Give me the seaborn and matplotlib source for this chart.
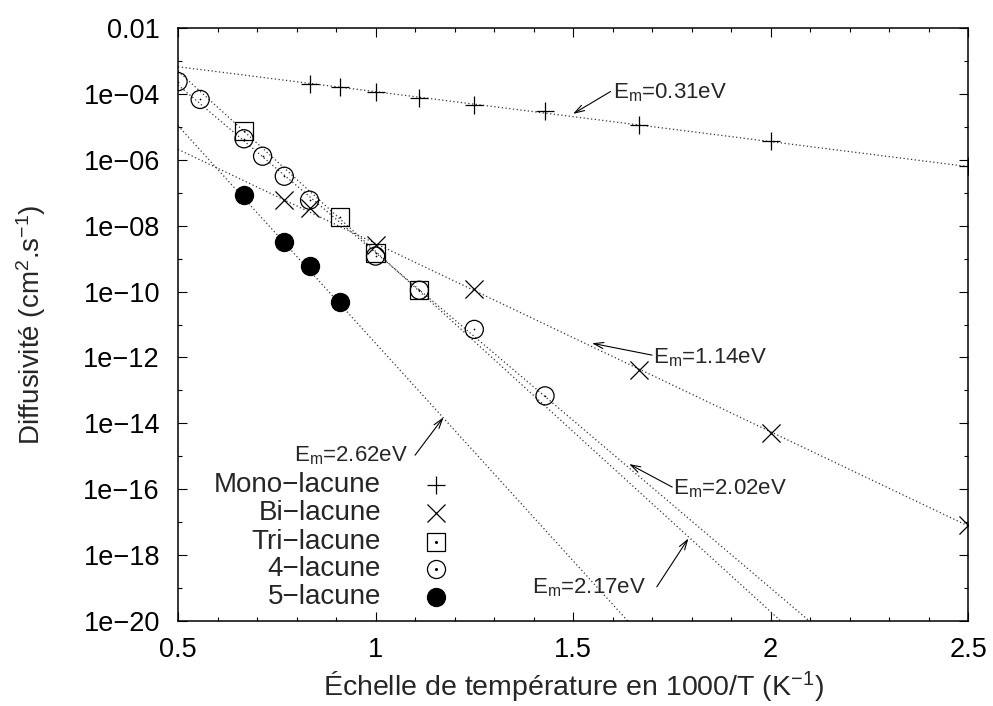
import matplotlib
matplotlib.use("Agg")
import matplotlib.pyplot as plt
import seaborn as sns
import pandas as pd
from matplotlib.ticker import FixedLocator, FixedFormatter

# points (x = 1000/T, D en cm2/s)
x_mono = [0.833, 0.909, 1.0, 1.111, 1.25, 1.429, 1.667, 2.0, 2.5]
d_mono = [2.1e-4, 1.6e-4, 1.2e-4, 7.8e-5, 4.7e-5, 3.1e-5, 1.15e-5, 3.8e-6, 6.6e-7]

x_bi = [0.769, 0.833, 1.0, 1.25, 1.667, 2.0, 2.5]
d_bi = [6.0e-8, 3.4e-8, 2.6e-9, 1.2e-10, 4.1e-13, 4.9e-15, 7.9e-18]

x_tri = [0.667, 0.909, 1.0, 1.111]
d_tri = [7.6e-6, 1.8e-8, 1.45e-9, 1.1e-10]

x_quatre = [0.5, 0.556, 0.667, 0.714, 0.769, 0.833, 1.0, 1.111, 1.25, 1.429]
d_quatre = [2.4e-4, 6.9e-5, 4.4e-6, 1.3e-6, 3.2e-7, 6.0e-8, 1.2e-9, 1.1e-10, 7.1e-12, 6.8e-14]

x_cinq = [0.667, 0.769, 0.833, 0.909]
d_cinq = [8.5e-8, 3.2e-9, 6.0e-10, 4.9e-11]

# droites d'Arrhenius (extrémités x = 0.5 et x = 2.5)
x_fit = [0.5, 2.5]
fit_mono = [6.8e-4, 6.3e-7]
fit_bi = [2.1e-6, 7.6e-18]
fit_tri = [5.0e-4, 6.3e-26]
fit_quatre = [1.9e-4, 7.9e-25]
fit_cinq = [1.1e-5, 4.0e-32]

energies = ["0.31", "1.14", "2.02", "2.17", "2.62"]
noms = ["Mono\u2212lacune", "Bi\u2212lacune", "Tri\u2212lacune", "4\u2212lacune", "5\u2212lacune"]

y_ticks = [1e-20, 1e-18, 1e-16, 1e-14, 1e-12, 1e-10, 1e-8, 1e-6, 1e-4, 1e-2]
y_tick_labels = ["1e\u221220", "1e\u221218", "1e\u221216", "1e\u221214", "1e\u221212",
                 "1e\u221210", "1e\u221208", "1e\u221206", "1e\u221204", "0.01"]
y_minor = [1e-19, 1e-17, 1e-15, 1e-13, 1e-11, 1e-9, 1e-7, 1e-5, 1e-3]
x_ticks = [0.5, 1.0, 1.5, 2.0, 2.5]
x_tick_labels = ["0.5", "1", "1.5", "2", "2.5"]

sns.set_style("ticks")
plt.rcParams["font.family"] = ["Liberation Sans", "DejaVu Sans"]
plt.rcParams["mathtext.default"] = "regular"
plt.rcParams["axes.linewidth"] = 1.1

fig = plt.figure(figsize=(9.93, 7.06), dpi=100)
ax = fig.add_axes([0.1793, 0.1208, 0.7956, 0.8391])

ligne = dict(color="#333333", lw=0.9, linestyle=(0, (1, 2)))
for fit in [fit_mono, fit_bi, fit_tri, fit_quatre, fit_cinq]:
    ax.plot(x_fit, fit, **ligne)

series = [
    (x_mono, d_mono, "+", "black", False),
    (x_bi, d_bi, "x", "black", False),
    (x_tri, d_tri, "s", "none", True),
    (x_quatre, d_quatre, "o", "none", True),
    (x_cinq, d_cinq, "o", "black", False),
]
for xs, ds, m, fc, dot in series:
    df = pd.DataFrame({"x": xs, "d": ds})
    sns.scatterplot(data=df, x="x", y="d", marker=m, s=170, color="black",
                    linewidth=0.9, ax=ax, zorder=3)
    coll = ax.collections[-1]
    if m in ("s", "o"):
        coll.set_facecolor(fc)
        coll.set_edgecolor("black")
    if dot:
        sns.scatterplot(data=df, x="x", y="d", marker="o", s=1.5, color="black",
                        linewidth=0, ax=ax, zorder=3)

ax.set_yscale("log")
ax.set_xlim(0.5, 2.5)
ax.set_ylim(1e-20, 1e-2)
ax.yaxis.set_major_locator(FixedLocator(y_ticks))
ax.yaxis.set_major_formatter(FixedFormatter(y_tick_labels))
ax.yaxis.set_minor_locator(FixedLocator(y_minor))
ax.yaxis.set_minor_formatter(FixedFormatter([""] * len(y_minor)))
ax.xaxis.set_major_locator(FixedLocator(x_ticks))
ax.xaxis.set_major_formatter(FixedFormatter(x_tick_labels))
ax.xaxis.set_minor_locator(FixedLocator([0.6, 0.7, 0.8, 0.9, 1.1, 1.2, 1.3, 1.4, 1.6, 1.7,
                                         1.8, 1.9, 2.1, 2.2, 2.3, 2.4]))
ax.tick_params(which="both", direction="in", top=True, right=True, width=0.8, colors="black")
ax.tick_params(which="major", length=6.5, labelsize=19.5)
ax.tick_params(which="minor", length=3)
ax.tick_params(axis="y", which="major", pad=13)
ax.tick_params(axis="x", which="major", pad=12)
for s in ax.spines.values():
    s.set_color("black")

ax.set_xlabel("\u00c9chelle de temp\u00e9rature en 1000/T (K$^{-1}$)", fontsize=20.5)
ax.set_ylabel("Diffusivit\u00e9 (cm$^2$.s$^{-1}$)", fontsize=20)
ax.xaxis.set_label_coords(0.5, -0.082)
ax.yaxis.set_label_coords(-0.165, 0.5)

# étiquettes des énergies de migration
fleche = dict(arrowstyle="->,head_length=0.7,head_width=0.22", color="black", lw=0.8,
              shrinkA=0, shrinkB=0)
annots = [
    (energies[0], (1.601, 10 ** -4.13), "left", (1.595, 10 ** -3.92), (1.5, 10 ** -4.6)),
    (energies[1], (1.703, 10 ** -12.18), "left", (1.7, 10 ** -11.93), (1.548, 10 ** -11.57)),
    (energies[2], (1.753, 10 ** -16.15), "left", (1.751, 10 ** -15.94), (1.642, 10 ** -15.24)),
    (energies[3], (1.686, 10 ** -19.17), "right", (1.712, 10 ** -18.97), (1.792, 10 ** -17.5)),
    (energies[4], (1.083, 10 ** -15.17), "right", (1.1, 10 ** -14.97), (1.172, 10 ** -13.82)),
]
for e, pos, ha, start, tip in annots:
    ax.text(pos[0], pos[1], f"$E_m$={e}eV", ha=ha, va="baseline", fontsize=16)
    ax.annotate("", xy=tip, xytext=start, arrowprops=fleche)

# légende à la gnuplot
leg_y = [0.229, 0.182, 0.133, 0.087, 0.040]
for i, nom in enumerate(noms):
    ax.text(0.257, leg_y[i], nom, transform=ax.transAxes, ha="right", va="center", fontsize=20)
    m, fc = series[i][2], series[i][3]
    ax.plot([0.327], [leg_y[i]], transform=ax.transAxes, marker=m, markersize=13,
            markerfacecolor=fc, markeredgecolor="black", markeredgewidth=0.9,
            color="black", linestyle="none")
    if series[i][4]:
        ax.plot([0.327], [leg_y[i]], transform=ax.transAxes, marker="o", markersize=1.2,
                color="black", linestyle="none")

fig.savefig("out.png", dpi=100)
